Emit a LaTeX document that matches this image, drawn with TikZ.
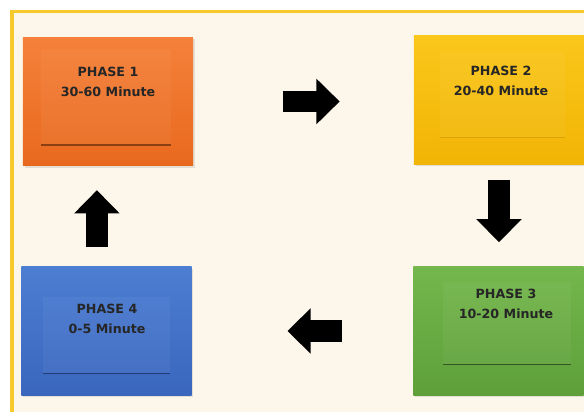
\documentclass[tikz,border=0pt]{standalone}
\usepackage{fontspec}
\setsansfont{DejaVu Sans}
\usetikzlibrary{arrows.meta}
\usetikzlibrary{calc}
\usetikzlibrary{shadows}

\definecolor{cream}{HTML}{FDF7EB}
\definecolor{frameyellow}{HTML}{F6C92C}
\definecolor{orangetop}{HTML}{F5813A}
\definecolor{orangebot}{HTML}{E8691E}
\definecolor{yellowtop}{HTML}{FAC71A}
\definecolor{yellowbot}{HTML}{F1B405}
\definecolor{greentop}{HTML}{74B74C}
\definecolor{greenbot}{HTML}{5E9F3A}
\definecolor{bluetop}{HTML}{4C7ED2}
\definecolor{bluebot}{HTML}{3A66BE}

\begin{document}
\begin{tikzpicture}[x=0.025cm, y=0.025cm,
  phasebox/.style={rectangle, minimum width=4.25cm, minimum height=3.22cm, inner sep=0pt,
    drop shadow={opacity=0.2, shadow xshift=0.04cm, shadow yshift=-0.05cm}},
  phasetext/.style={font=\sffamily\bfseries\fontsize{9}{14}\selectfont, align=center, text=black!85},
  panel/.style={white, opacity=0.045},
  cyclearrow/.style={line width=0.54cm, -{Triangle[width=1.1cm, length=0.58cm]}, black}
]
\useasboundingbox (0,0) rectangle (584,412);
\clip (0,0) rectangle (584,412);

% background and frame
\fill[white] (0,0) rectangle (584,412);
\fill[cream] (12,-10) rectangle (600,400);
\draw[frameyellow, line width=0.075cm] (12,-10) rectangle (600,400);

% phases
\node[phasebox, top color=orangetop, bottom color=orangebot] (p1) at (108,310.5) {};
\node[phasebox, top color=yellowtop, bottom color=yellowbot] (p2) at (499,312) {};
\node[phasebox, top color=greentop, bottom color=greenbot] (p3) at (498.5,81) {};
\node[phasebox, top color=bluetop, bottom color=bluebot] (p4) at (106.5,81) {};

% inner panels
\fill[panel] ([shift={(18,-13)}]p1.north west) rectangle ([shift={(-22,21)}]p1.south east);
\fill[panel] ([shift={(26,-17)}]p2.north west) rectangle ([shift={(-19,27)}]p2.south east);
\fill[panel] ([shift={(30,-16)}]p3.north west) rectangle ([shift={(-13,31)}]p3.south east);
\fill[panel] ([shift={(22,-31)}]p4.north west) rectangle ([shift={(-22,22)}]p4.south east);
\draw[-, line width=0.04cm, orangebot!60!black] ([shift={(18,21)}]p1.south west) -- ([shift={(-22,21)}]p1.south east);
\draw[-, line width=0.03cm, yellowbot!90!black] ([shift={(26,27)}]p2.south west) -- ([shift={(-19,27)}]p2.south east);
\draw[-, line width=0.04cm, greenbot!55!black] ([shift={(30,31)}]p3.south west) -- ([shift={(-13,31)}]p3.south east);
\draw[-, line width=0.04cm, bluebot!60!black] ([shift={(22,22)}]p4.south west) -- ([shift={(-22,22)}]p4.south east);

\node[phasetext] (t1) at (108,330) {PHASE 1\\30-60 Minute};
\node[phasetext] (t2) at (501,331) {PHASE 2\\20-40 Minute};
\node[phasetext] (t3) at (506,108) {PHASE 3\\10-20 Minute};
\node[phasetext] (t4) at (107,93) {PHASE 4\\0-5 Minute};

% cycle
\draw[cyclearrow, shorten <=2.25cm, shorten >=1.85cm] (p1.east) -- (p1.east -| p2.west);
\draw[cyclearrow, shorten <=0.375cm, shorten >=0.6cm] (p2.south) -- (p2.south |- p3.north);
\draw[cyclearrow, shorten <=1.79cm, shorten >=2.39cm] (p3.west) -- (p3.west -| p4.east);
\draw[cyclearrow, shorten <=0.475cm, shorten >=0.6cm] ([xshift=-0.24cm]p4.north) -- ([xshift=-0.24cm]p4.north |- p1.south);
\end{tikzpicture}
\end{document}
